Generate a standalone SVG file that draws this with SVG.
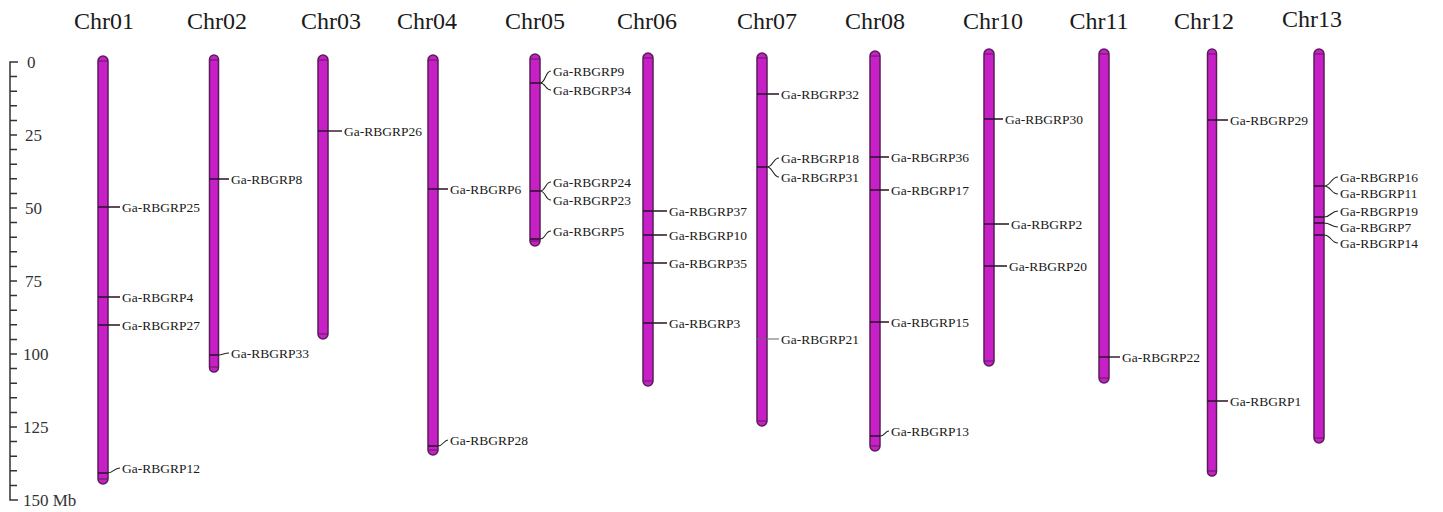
<svg xmlns="http://www.w3.org/2000/svg" width="1443" height="512" viewBox="0 0 1443 512">
<style>
text{font-family:"Liberation Serif","Times New Roman",serif;fill:#1a1a1a}
.hd{font-size:24px;text-anchor:middle}
.lb{font-size:13.5px}
.sc{font-size:17px;fill:#333}
.chr{fill:#c720c7;stroke:#5a1d5a;stroke-width:1.5}
.cap{stroke:#5a1d5a;stroke-width:1.2;fill:none}
.mk{stroke:#2a102a;stroke-width:1.4;fill:none}
.cn{stroke:#222;stroke-width:1.1;fill:none}
.ax{stroke:#333;stroke-width:1.5;fill:none}
</style>
<rect width="1443" height="512" fill="#fff"/>
<g id="scale">
<path class="ax" d="M18,62H10V500H18"/>
<path class="ax" d="M10,76.6h7M10,91.2h7M10,105.8h7M10,120.4h7M10,135h7M10,149.6h7M10,164.2h7M10,178.8h7M10,193.4h7M10,208h7M10,222.6h7M10,237.2h7M10,251.8h7M10,266.4h7M10,281h7M10,295.6h7M10,310.2h7M10,324.8h7M10,339.4h7M10,354h7M10,368.6h7M10,383.2h7M10,397.8h7M10,412.4h7M10,427h7M10,441.6h7M10,456.2h7M10,470.8h7M10,485.4h7"/>
<text class="sc" x="27" y="68">0</text>
<text class="sc" x="25" y="141">25</text>
<text class="sc" x="25" y="214">50</text>
<text class="sc" x="25" y="287">75</text>
<text class="sc" x="23" y="360">100</text>
<text class="sc" x="23" y="433">125</text>
<text class="sc" x="23" y="506">150 Mb</text>
</g>
<g id="headers">
<text class="hd" x="104" y="29">Chr01</text>
<text class="hd" x="217" y="29">Chr02</text>
<text class="hd" x="331" y="29">Chr03</text>
<text class="hd" x="427" y="29">Chr04</text>
<text class="hd" x="535" y="29">Chr05</text>
<text class="hd" x="647" y="29">Chr06</text>
<text class="hd" x="767" y="29">Chr07</text>
<text class="hd" x="875" y="29">Chr08</text>
<text class="hd" x="993" y="29">Chr10</text>
<text class="hd" x="1099" y="29">Chr11</text>
<text class="hd" x="1204" y="29">Chr12</text>
<text class="hd" x="1312" y="27">Chr13</text>
</g>
<g id="chr01">
<rect class="chr" x="98" y="56" width="10" height="428" rx="5"/>
<path class="cap" d="M98,61h10M98,479h10"/>
<text class="lb" x="122" y="211.5">Ga-RBGRP25</text>
<text class="lb" x="122" y="301.5">Ga-RBGRP4</text>
<text class="lb" x="122" y="329.5">Ga-RBGRP27</text>
<text class="lb" x="122" y="472.5">Ga-RBGRP12</text>
</g>
<g id="chr02">
<rect class="chr" x="209.5" y="55" width="9" height="317" rx="4.5"/>
<path class="cap" d="M209.5,60h9M209.5,367h9"/>
<text class="lb" x="231" y="183.5">Ga-RBGRP8</text>
<text class="lb" x="231" y="357.5">Ga-RBGRP33</text>
</g>
<g id="chr03">
<rect class="chr" x="318" y="55" width="10" height="284" rx="5"/>
<path class="cap" d="M318,60h10M318,334h10"/>
<text class="lb" x="344" y="135.5">Ga-RBGRP26</text>
</g>
<g id="chr04">
<rect class="chr" x="428" y="55" width="10" height="400" rx="5"/>
<path class="cap" d="M428,60h10M428,450h10"/>
<text class="lb" x="450" y="193.5">Ga-RBGRP6</text>
<text class="lb" x="450" y="444.5">Ga-RBGRP28</text>
</g>
<g id="chr05">
<rect class="chr" x="530" y="54" width="10" height="192" rx="5"/>
<path class="cap" d="M530,59h10M530,241h10"/>
<text class="lb" x="553" y="75.5">Ga-RBGRP9</text>
<text class="lb" x="553" y="94.5">Ga-RBGRP34</text>
<text class="lb" x="553" y="186.5">Ga-RBGRP24</text>
<text class="lb" x="553" y="204.5">Ga-RBGRP23</text>
<text class="lb" x="553" y="235.5">Ga-RBGRP5</text>
</g>
<g id="chr06">
<rect class="chr" x="643" y="53" width="10" height="333" rx="5"/>
<path class="cap" d="M643,58h10M643,381h10"/>
<text class="lb" x="669" y="215.5">Ga-RBGRP37</text>
<text class="lb" x="669" y="239.5">Ga-RBGRP10</text>
<text class="lb" x="669" y="267.5">Ga-RBGRP35</text>
<text class="lb" x="669" y="327.5">Ga-RBGRP3</text>
</g>
<g id="chr07">
<rect class="chr" x="757" y="53" width="10" height="373" rx="5"/>
<path class="cap" d="M757,58h10M757,421h10"/>
<text class="lb" x="781" y="98.5">Ga-RBGRP32</text>
<text class="lb" x="781" y="162.5">Ga-RBGRP18</text>
<text class="lb" x="781" y="181.5">Ga-RBGRP31</text>
<text class="lb" x="781" y="343.5">Ga-RBGRP21</text>
</g>
<g id="chr08">
<rect class="chr" x="870" y="51" width="10" height="400" rx="5"/>
<path class="cap" d="M870,56h10M870,446h10"/>
<text class="lb" x="891" y="161.5">Ga-RBGRP36</text>
<text class="lb" x="891" y="194.5">Ga-RBGRP17</text>
<text class="lb" x="891" y="326.5">Ga-RBGRP15</text>
<text class="lb" x="891" y="435.5">Ga-RBGRP13</text>
</g>
<g id="chr10">
<rect class="chr" x="984" y="49" width="10" height="317" rx="5"/>
<path class="cap" d="M984,54h10M984,361h10"/>
<text class="lb" x="1005" y="123.5">Ga-RBGRP30</text>
<text class="lb" x="1011" y="228.5">Ga-RBGRP2</text>
<text class="lb" x="1009" y="270.5">Ga-RBGRP20</text>
</g>
<g id="chr11">
<rect class="chr" x="1099" y="49" width="10" height="334" rx="5"/>
<path class="cap" d="M1099,54h10M1099,378h10"/>
<text class="lb" x="1122" y="361.5">Ga-RBGRP22</text>
</g>
<g id="chr12">
<rect class="chr" x="1207.5" y="49" width="9" height="427" rx="4.5"/>
<path class="cap" d="M1207.5,54h9M1207.5,471h9"/>
<text class="lb" x="1230" y="124.5">Ga-RBGRP29</text>
<text class="lb" x="1230" y="405.5">Ga-RBGRP1</text>
</g>
<g id="chr13">
<rect class="chr" x="1314" y="49" width="10" height="394" rx="5"/>
<path class="cap" d="M1314,54h10M1314,438h10"/>
<text class="lb" x="1340" y="181.5">Ga-RBGRP16</text>
<text class="lb" x="1340" y="198">Ga-RBGRP11</text>
<text class="lb" x="1340" y="215.5">Ga-RBGRP19</text>
<text class="lb" x="1340" y="231.5">Ga-RBGRP7</text>
<text class="lb" x="1340" y="247.5">Ga-RBGRP14</text>
</g>
<g id="connectors">
<path class="mk" d="M98,207H120M98,297H120M98,325H120M98,473H108"/>
<path class="cn" d="M108,473C113,473 114,468 120,468"/>
<path class="mk" d="M209.5,179H229M209.5,355H218.5"/>
<path class="cn" d="M218.5,355C223,355 224,353 229,353"/>
<path class="mk" d="M318,131H342"/>
<path class="mk" d="M428,189H448M428,446H438"/>
<path class="cn" d="M438,446C443,446 444,440 448,440"/>
<path class="mk" d="M530,83H540M530,191H540M530,239H540"/>
<path class="cn" d="M540,83C546,83 545,71 551,71M540,83C546,83 545,90 551,90M540,191C546,191 545,182 551,182M540,191C546,191 545,200 551,200M540,239C546,239 545,231 551,231"/>
<path class="mk" d="M643,211H667M643,235H667M643,263H667M643,323H667"/>
<path class="mk" d="M757,94H779M757,167H767"/>
<path class="cn" d="M767,167C773,167 773,158 779,158M767,167C773,167 773,177 779,177"/>
<path d="M757,339H779" stroke="#666" stroke-width="1" fill="none"/>
<path class="mk" d="M870,157H889M870,190H889M870,322H889M870,436H880"/>
<path class="cn" d="M880,436C885,436 885,431 889,431"/>
<path class="mk" d="M984,119H1003M984,224H1009M984,266H1007"/>
<path class="mk" d="M1099,357H1120"/>
<path class="mk" d="M1207.5,120H1228M1207.5,401H1228"/>
<path class="mk" d="M1314,186H1324M1314,217H1324M1314,223H1324M1314,235H1324"/>
<path class="cn" d="M1324,186C1331,186 1331,177 1338,177M1324,186C1331,186 1331,194 1338,194M1324,217C1331,217 1331,211 1338,211M1324,223C1331,223 1331,227 1338,227M1324,235C1331,235 1331,243 1338,243"/>
</g>
</svg>
